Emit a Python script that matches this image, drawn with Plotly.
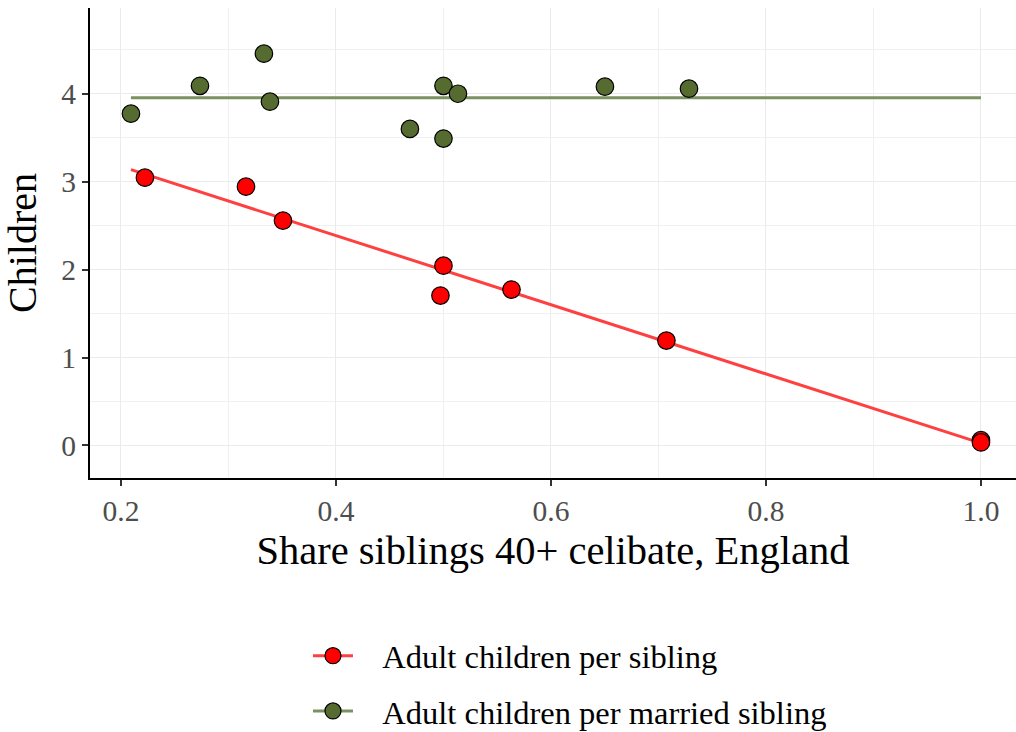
import numpy as np
import plotly.graph_objects as go

# Share of siblings aged 40+ who stayed celibate, and children per sibling
share_all = [0.2223, 0.3163, 0.3507, 0.5000, 0.4972, 0.5633, 0.7074, 1.0000, 1.0000]
children_all = [3.045, 2.943, 2.557, 2.045, 1.705, 1.773, 1.193, 0.060, 0.035]

# Same families, children per married sibling
share_married = [0.2093, 0.2735, 0.3330, 0.3386, 0.4688, 0.5000, 0.5000, 0.5135, 0.6502, 0.7284]
children_married = [3.773, 4.090, 4.455, 3.910, 3.600, 4.090, 3.490, 4.000, 4.080, 4.057]

label_all = "Adult children per sibling"
label_married = "Adult children per married sibling"

RED_PT, RED_LN = "#FF0000", "#FF4040"
GRN_PT, GRN_LN = "#556B2F", "#7A9162"
FONT = "Liberation Serif"
PAD = "\u00a0\u00a0\u00a0"  # breathing room between legend key and label

# Linear fits drawn across the full range of shares
x_lo = min(share_all + share_married)
x_hi = max(share_all + share_married)
xfit = np.array([x_lo, x_hi])
fit_all = np.polyval(np.polyfit(share_all, children_all, 1), xfit)
fit_married = np.polyval(np.polyfit(share_married, children_married, 1), xfit)

fig = go.Figure()
marker_common = dict(size=17.5, line=dict(color="black", width=1.2))

fig.add_trace(go.Scatter(x=xfit, y=fit_married, mode="lines",
                         line=dict(color=GRN_LN, width=3), showlegend=False, hoverinfo="skip"))
fig.add_trace(go.Scatter(x=xfit, y=fit_all, mode="lines",
                         line=dict(color=RED_LN, width=3), showlegend=False, hoverinfo="skip"))
fig.add_trace(go.Scatter(x=share_married, y=children_married, mode="markers",
                         marker=dict(color=GRN_PT, **marker_common), showlegend=False))
fig.add_trace(go.Scatter(x=share_all, y=children_all, mode="markers",
                         marker=dict(color=RED_PT, **marker_common), showlegend=False))

# Legend keys: line with a point on it
fig.add_trace(go.Scatter(x=[None], y=[None], mode="lines+markers", name=PAD + label_all,
                         legendgroup="a",
                         line=dict(color=RED_LN, width=3),
                         marker=dict(color=RED_PT, **marker_common)))
fig.add_trace(go.Scatter(x=[None], y=[None], mode="lines+markers", name=PAD + label_married,
                         legendgroup="b",
                         line=dict(color=GRN_LN, width=3),
                         marker=dict(color=GRN_PT, **marker_common)))

axis_common = dict(
    showline=True, linecolor="black", linewidth=2,
    ticks="outside", ticklen=6, tickwidth=2, tickcolor="#333333",
    tickfont=dict(family=FONT, size=29.5, color="#4D4D4D"),
    showgrid=True, gridcolor="#EBEBEB", gridwidth=1.4,
    zeroline=False, mirror=False,
)

fig.update_layout(
    width=1016, height=732,
    margin=dict(l=90, r=0, t=8, b=254, autoexpand=False),
    paper_bgcolor="white", plot_bgcolor="white",
    font=dict(family=FONT, color="black"),
    xaxis=dict(range=[0.1712, 1.0326], tickvals=[0.2, 0.4, 0.6, 0.8, 1.0],
               ticktext=["0.2", "0.4", "0.6", "0.8", "1.0"],
               minor=dict(tickvals=[0.3, 0.5, 0.7, 0.9], showgrid=True,
                          gridcolor="#F0F0F0", gridwidth=0.9, ticks=""),
               title=dict(text="Share siblings 40+ celibate, England",
                          font=dict(family=FONT, size=40.5, color="black"), standoff=9),
               automargin=False,
               **axis_common),
    yaxis=dict(range=[-0.37, 4.975], tickvals=[0, 1, 2, 3, 4],
               minor=dict(tickvals=[0.5, 1.5, 2.5, 3.5, 4.5], showgrid=True,
                          gridcolor="#F0F0F0", gridwidth=0.9, ticks=""),
               title=dict(text="Children", font=dict(family=FONT, size=40, color="black"),
                          standoff=12),
               automargin=False,
               **axis_common),
    legend=dict(orientation="v", x=0.2354, xanchor="left", xref="paper",
                y=0.142, yanchor="top", yref="container", tracegroupgap=10,
                itemwidth=40,
                font=dict(family=FONT, size=32.5, color="black"),
                bgcolor="rgba(0,0,0,0)"),
)

fig.write_html("out.html")
